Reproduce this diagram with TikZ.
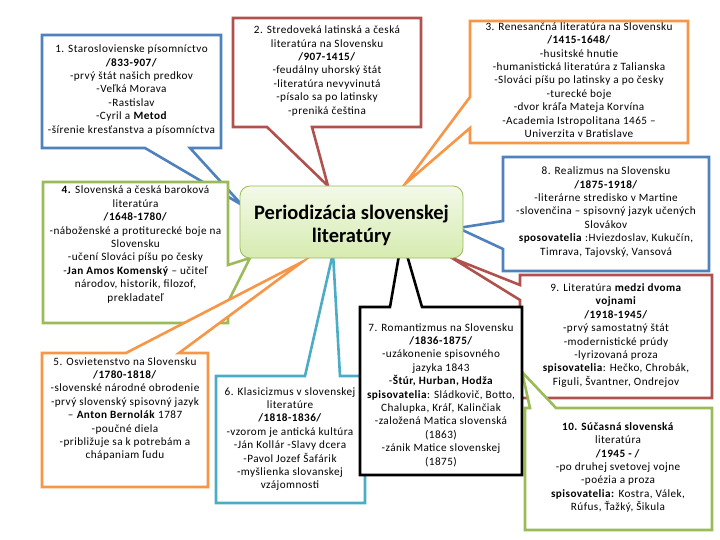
\documentclass[tikz,border=0pt]{standalone}
\usepackage{fontspec}
\setmainfont{Carlito}
\newfontfamily\boxfont{Carlito}[LetterSpace=4.0]
\definecolor{cblue}{HTML}{4F81BD}
\definecolor{cred}{HTML}{B0514E}
\definecolor{cgreen}{HTML}{9BBB59}
\definecolor{corange}{HTML}{F79646}
\definecolor{cteal}{HTML}{4BACC6}
\definecolor{hubtop}{HTML}{F3F9E8}
\definecolor{hubbot}{HTML}{D6EBB0}
\begin{document}
\begin{tikzpicture}[x=1pt,y=-1pt,
  callout/.style={line width=2.6pt, fill=white, line join=miter, miter limit=20},
  boxtext/.style={align=center, inner sep=0pt, font=\boxfont\fontsize{11.2}{13.4}\selectfont},
  hubbox/.style={draw=cgreen, line width=0.8pt, rounded corners=10pt,
    top color=hubtop, bottom color=hubbot, minimum width=223pt, minimum height=72pt,
    align=center, inner sep=0pt, font=\fontsize{20.5}{23}\selectfont\bfseries}
]
\useasboundingbox (0,0) rectangle (720,540);
% tips
\coordinate (tip1) at (242,205);
\coordinate (tip2) at (328,186);
\coordinate (tip3) at (405,184);
\coordinate (tip4) at (250,258);
\coordinate (tip5) at (302,262);
\coordinate (tip6) at (333,253);
\coordinate (tip7) at (402,238);
\coordinate (tip8) at (458,228);
\coordinate (tip9) at (452,258);
\coordinate (tip10) at (522,372);
% callouts
\draw[callout, draw=cblue] (42,35) -- (221,35) -- (221,148) -- (190,148) -- (tip1) -- (145,148) -- (42,148) -- cycle;
\draw[callout, draw=cred] (233,18) -- (421,18) -- (421,127) -- (312,127) -- (tip2) -- (267,127) -- (233,127) -- cycle;
\draw[callout, draw=corange] (470,21) -- (688,21) -- (688,143) -- (470,143) -- (470,128) -- (tip3) -- (470,97) -- cycle;
\draw[callout, draw=cgreen] (43,182) -- (228,182) -- (228,265) -- (tip4) -- (228,302) -- (228,323) -- (43,323) -- cycle;
\draw[callout, draw=corange] (42,353) -- (126,353) -- (tip5) -- (179,353) -- (208,353) -- (208,487) -- (42,487) -- cycle;
\draw[callout, draw=cteal] (216,376) -- (305,376) -- (tip6) -- (340,376) -- (365,376) -- (365,503) -- (216,503) -- cycle;
\draw[callout, draw=cblue] (503,157) -- (709,157) -- (709,271) -- (503,271) -- (503,249) -- (tip8) -- (503,221) -- cycle;
\draw[callout, draw=cred] (520,275) -- (712,275) -- (712,398) -- (520,398) -- (520,300) -- (tip9) -- (520,285) -- cycle;
\draw[callout, draw=cgreen] (525,408) -- (530,408) -- (tip10) -- (556,408) -- (712,408) -- (712,530) -- (525,530) -- cycle;
\draw[callout, draw=black] (360,307) -- (390,307) -- (tip7) -- (422,307) -- (522,307) -- (522,475) -- (360,475) -- cycle;
% texts
\node[boxtext] (t1) at (131.5,90) {1. Staroslovienske písomníctvo\\ \textbf{/833-907/}\\ -prvý štát našich predkov\\ -Veľká Morava\\ -Rastislav\\ -Cyril a \textbf{Metod}\\ -šírenie kresťanstva a písomníctva};
\node[boxtext] (t2) at (327,71) {2. Stredoveká latinská a česká\\ literatúra na Slovensku\\ \textbf{/907-1415/}\\ -feudálny uhorský štát\\ -literatúra nevyvinutá\\ -písalo sa po latinsky\\ -preniká čeština};
\node[boxtext] (t3) at (579,80) {3. Renesančná literatúra na Slovensku\\ \textbf{/1415-1648/}\\ -husitské hnutie\\ -humanistická literatúra z Talianska\\ -Slováci píšu po latinsky a po česky\\ -turecké boje\\ -dvor kráľa Mateja Korvína\\ -Academia Istropolitana 1465 –\\ Univerzita v Bratislave};
\node[boxtext] (t4) at (135.5,244.5) {\textbf{4.} Slovenská a česká baroková\\ literatúra\\ \textbf{/1648-1780/}\\ -náboženské a protiturecké boje na\\ Slovensku\\ -učení Slováci píšu po česky\\ -\textbf{Jan Amos Komenský} – učiteľ\\ národov, historik, filozof,\\ prekladateľ};
\node[boxtext] (t5) at (125,409) {5. Osvietenstvo na Slovensku\\ \textbf{/1780-1818/}\\ -slovenské národné obrodenie\\ -prvý slovenský spisovný jazyk\\ – \textbf{Anton Bernolák} 1787\\ -poučné diela\\ -približuje sa k potrebám a\\ chápaniam ľudu};
\node[boxtext] (t6) at (290,439) {6. Klasicizmus v slovenskej\\ literatúre\\ \textbf{/1818-1836/}\\ -vzorom je antická kultúra\\ -Ján Kollár -Slavy dcera\\ -Pavol Jozef Šafárik\\ -myšlienka slovanskej\\ vzájomnosti};
\node[boxtext] (t7) at (441,395) {7. Romantizmus na Slovensku\\ \textbf{/1836-1875/}\\ -uzákonenie spisovného\\ jazyka 1843\\ -\textbf{Štúr, Hurban, Hodža}\\ \textbf{spisovatelia}: Sládkovič, Botto,\\ Chalupka, Kráľ, Kalinčiak\\ -založená Matica slovenská\\ (1863)\\ -zánik Matice slovenskej\\ (1875)};
\node[boxtext] (t8) at (606,212) {8. Realizmus na Slovensku\\ \textbf{/1875-1918/}\\ -literárne stredisko v Martine\\ -slovenčina – spisovný jazyk učených\\ Slovákov\\ \textbf{sposovatelia} :Hviezdoslav, Kukučín,\\ Timrava, Tajovský, Vansová};
\node[boxtext] (t9) at (616,335.5) {9. Literatúra \textbf{medzi dvoma}\\ \textbf{vojnami}\\ \textbf{/1918-1945/}\\ -prvý samostatný štát\\ -modernistické prúdy\\ -lyrizovaná proza\\ \textbf{spisovatelia}: Hečko, Chrobák,\\ Figuli, Švantner, Ondrejov};
\node[boxtext] (t10) at (618,467.5) {\textbf{10. Súčasná slovenská}\\ literatúra\\ \textbf{/1945 - /}\\ -po druhej svetovej vojne\\ -poézia  a proza\\ \textbf{spisovatelia:} Kostra, Válek,\\ Rúfus, Ťažký, Šikula};
% hub
\node[hubbox] (hub) at (351.5,222) {};
\node[font=\fontsize{20.5}{23}\selectfont\bfseries, align=center, inner sep=0pt] (hubtext) at (351.5,225) {Periodizácia slovenskej\\ literatúry};
\end{tikzpicture}
\end{document}
